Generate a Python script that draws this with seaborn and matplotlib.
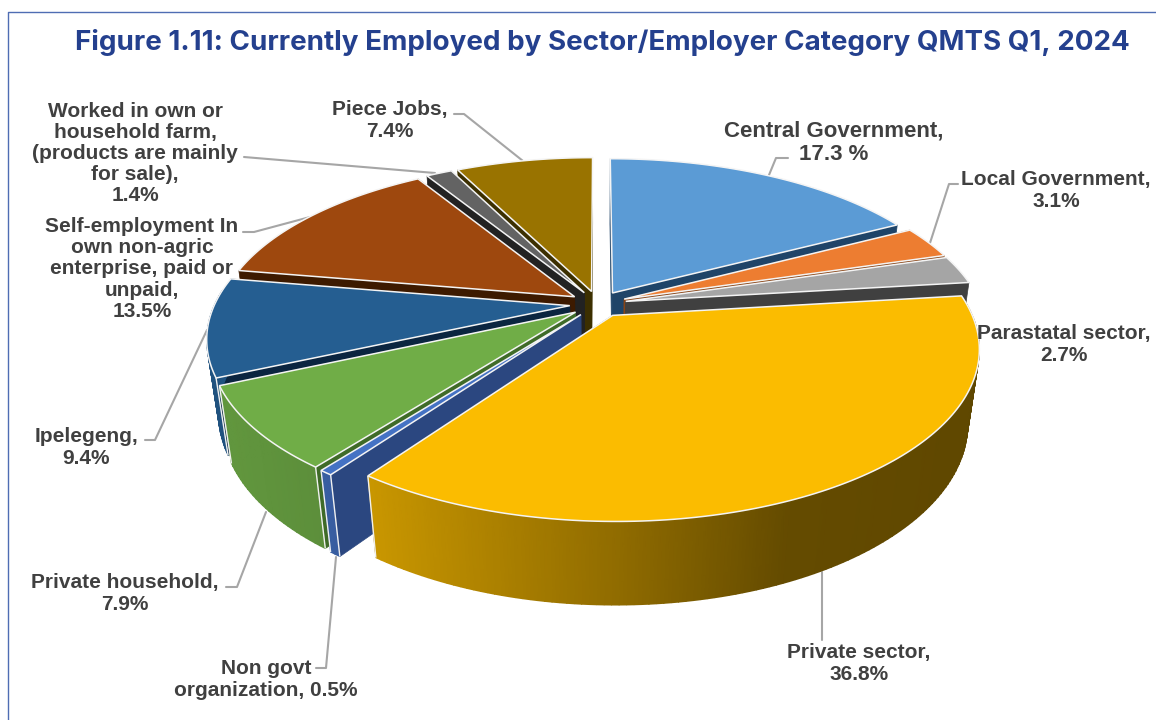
import numpy as np
import matplotlib
matplotlib.use("Agg")
import matplotlib.pyplot as plt
import seaborn as sns

sectors = ["Central Government", "Local Government", "Parastatal sector", "Private sector",
           "Non govt organization", "Private household", "Ipelegeng", "Self-employment",
           "Own farm", "Piece Jobs"]
shares = [17.3, 3.1, 2.7, 36.8, 0.5, 7.9, 9.4, 13.5, 1.4, 7.4]
top_colors = ["#5B9BD5", "#ED7D31", "#A5A5A5", "#FBBC00", "#4472C4",
              "#70AD47", "#255E91", "#9E480E", "#636363", "#997300"]
wall_colors = ["#1F4468", "#8A4516", "#404040", "#6B5000", "#2B4780",
               "#3F6B28", "#0B2540", "#3D1A00", "#222222", "#3C2F00"]

labels = ["Central Government,\n17.3 %", "Local Government,\n3.1%", "Parastatal sector,\n2.7%",
          "Private sector,\n36.8%", "Non govt\norganization, 0.5%", "Private household,\n7.9%",
          "Ipelegeng,\n9.4%", "Self-employment In\nown non-agric\nenterprise, paid or\nunpaid,\n13.5%",
          "Worked in own or\nhousehold farm,\n(products are mainly\nfor sale),\n1.4%", "Piece Jobs,\n7.4%"]
label_x = [834, 1056, 1064, 859, 266, 125, 86, 142, 135, 390]
label_y = [142.5, 190.5, 344.5, 663.5, 679.5, 593.5, 447.5, 269, 153.5, 120.5]
label_size = [16, 15, 15, 15, 15, 15, 15, 15, 15, 15]
leader_x = [[788, 776, 769], [958, 949, 930], [], [822, 822], [316, 326, 336], [226, 237, 266],
            [145, 155, 207], [243, 254, 310], [244, 435], [454, 464, 523]]
leader_y = [[158, 158, 175], [184, 184, 243], [], [640, 572], [668, 668, 557], [587, 587, 512],
            [440, 440, 330], [232, 232, 217], [157, 173], [114, 114, 161]]

sns.set_style("white")
plt.rcParams["font.family"] = ["Liberation Sans", "DejaVu Sans"]

# perspective of the tilted disc, in pixels
cx, cy = 598, 304
A, B, D = 355, 163, 76
k, m = 0.186, 0.03
explode = 0.08


def project(u, v, z):
    w = 1 + k * v + m * z
    return cx + A * u / w, cy + (-B * v + D * z) / w


fig = plt.figure(figsize=(11.56, 7.2), dpi=100)
ax = fig.add_axes([0, 0, 1, 1])
ax.set_xlim(0, 1156)
ax.set_ylim(720, 0)
ax.axis("off")

edges = np.radians(np.concatenate([[0], np.cumsum(shares)]) * 3.6)
mids = (edges[:-1] + edges[1:]) / 2
order = np.argsort(-np.cos(mids))

for i in order:
    t = np.linspace(edges[i], edges[i + 1], max(3, int(np.degrees(edges[i + 1] - edges[i])) + 1))
    ou, ov = explode * np.sin(mids[i]), explode * np.cos(mids[i])
    ru, rv = ou + np.sin(t), ov + np.cos(t)

    # radial walls
    for end in (0, -1):
        x0, y0 = project(ou, ov, 0)
        x1, y1 = project(ru[end], rv[end], 0)
        x2, y2 = project(ru[end], rv[end], 1)
        x3, y3 = project(ou, ov, 1)
        ax.fill([x0, x1, x2, x3], [y0, y1, y2, y3], color=wall_colors[i], lw=0.5, zorder=1)

    # outer rim, shaded left to right, only the part that faces the viewer
    xt, yt = project(ru, rv, 0)
    front = np.cos(t) < 0.1
    if front.sum() > 1:
        xf, yf = project(ru[front], rv[front], 0)
        xb, yb = project(ru[front], rv[front], 1)
        base = np.array(matplotlib.colors.to_rgb(top_colors[i]))
        shade = np.interp(xf, [200, 370, 612, 790, 980], [0.88, 0.8, 0.58, 0.4, 0.38])
        rgb = np.stack([np.outer(shade, base)] * 2)
        ax.pcolormesh(np.stack([xf, xb]), np.stack([yf, yb]), rgb, shading="gouraud", zorder=1)
        if np.cos(mids[i]) < 0:
            for end in (0, -1):
                ax.plot([xf[end], xb[end]], [yf[end], yb[end]], color="#f0f0f0", lw=1.0,
                        solid_capstyle="butt", zorder=1)

    # top face
    ax0, ay0 = project(ou, ov, 0)
    ax.fill(np.r_[ax0, xt], np.r_[ay0, yt], facecolor=top_colors[i], edgecolor="#f4f4f4", lw=1.1,
            joinstyle="miter", zorder=1)

for lx, ly in zip(leader_x, leader_y):
    if lx:
        ax.plot(lx, ly, color="#a6a6a6", lw=1.5, solid_joinstyle="round", zorder=0.5)

for text, x, y, size in zip(labels, label_x, label_y, label_size):
    ax.text(x, y, text, ha="center", va="center", ma="center", fontsize=size, fontweight="bold",
            color="#404040", linespacing=1.14)

ax.plot([8, 8, 1156], [720, 12, 12], color="#4f6db3", lw=1.0)
title = ax.text(602, 42, "Figure 1.11: Currently Employed by Sector/Employer Category QMTS Q1, 2024",
                ha="center", va="center", fontsize=20, fontweight="bold", color="#24408E",
                family=["Inter", "DejaVu Sans"])
# fit the title to the width it has in the figure
width = title.get_window_extent(fig.canvas.get_renderer()).width
title.set_fontsize(20 * 1055 / width)

fig.savefig("out.png", dpi=100)
